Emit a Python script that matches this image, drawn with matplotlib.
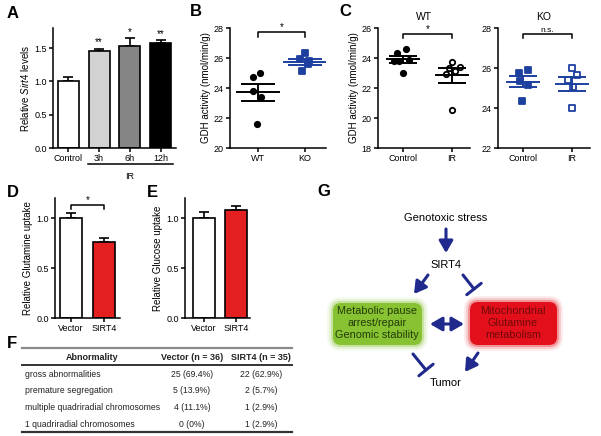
import matplotlib
matplotlib.use("Agg")
import matplotlib.pyplot as plt
from matplotlib.patches import FancyBboxPatch
from matplotlib.transforms import blended_transform_factory
import numpy as np

plt.rcParams['font.family'] = ['Liberation Sans', 'DejaVu Sans']
plt.rcParams['font.size'] = 7
plt.rcParams['mathtext.fontset'] = 'custom'
plt.rcParams['mathtext.it'] = 'Liberation Sans:italic'
plt.rcParams['mathtext.rm'] = 'Liberation Sans'
plt.rcParams['axes.linewidth'] = 1.1

W, H = 601, 436
BLUE = "#1d3f9e"
NAVY = "#1f2a8c"

# --- data ---
a_groups = ["Control", "3h", "6h", "12h"]
a_mean = [1.00, 1.45, 1.53, 1.57]
a_sem = [0.07, 0.04, 0.12, 0.05]
a_stars = ["", "**", "*", "**"]
a_colors = ["white", "#d2d2d2", "#858585", "black"]

b_groups = ["WT", "KO"]
b_wt = [24.7, 25.0, 23.8, 23.4, 21.6]
b_ko = [26.3, 25.95, 25.8, 25.6, 25.1]

c_groups = ["Control", "IR"]
c_wt_ctrl = [24.6, 24.35, 23.85, 23.8, 23.8, 23.0]
c_wt_ir = [23.75, 23.4, 23.35, 23.1, 22.9, 20.5]
c_ko_ctrl = [25.9, 25.77, 25.35, 25.15, 24.37]
c_ko_ir = [25.98, 25.65, 25.4, 25.03, 23.98]

de_groups = ["Vector", "SIRT4"]
d_mean = [1.00, 0.76]
d_sem = [0.05, 0.04]
e_mean = [1.00, 1.08]
e_sem = [0.06, 0.04]

f_rows = ["gross abnormalities", "premature segregation",
          "multiple quadriradial chromosomes", "1 quadriradial chromosomes"]
f_n = [36, 35]
f_vector = [25, 5, 4, 0]
f_sirt4 = [22, 2, 1, 1]

# horizontal jitter of the dots (layout only)
j_b_wt = [-0.1, 0.05, -0.1, 0.07, -0.02]
j_b_ko = [0.0, -0.1, 0.08, 0.06, -0.06]
j_c_wt_ctrl = [0.06, -0.12, 0.12, -0.18, -0.08, 0.0]
j_c_wt_ir = [0.0, 0.16, -0.06, 0.06, -0.12, 0.0]
j_c_ko_ctrl = [0.1, -0.08, -0.06, 0.1, -0.02]
j_c_ko_ir = [0.0, 0.1, -0.08, 0.02, 0.0]

TICK = 6.5


def box(x0, y0, x1, y1):
    return [x0 / W, 1 - y1 / H, (x1 - x0) / W, (y1 - y0) / H]


def style(ax):
    for s in ("top", "right"):
        ax.spines[s].set_visible(False)
    ax.tick_params(direction="out", length=3, width=1.1, labelsize=TICK,
                   pad=1.5)


def bracket(ax, x0, x1, y, h, label, fs=7):
    ax.plot([x0, x0, x1, x1], [y - h, y, y, y - h], color="k", lw=1.1,
            clip_on=False)
    ax.text((x0 + x1) / 2, y, label, ha="center", va="bottom", fontsize=fs)


def dots(ax, x, vals, offs, marker, color, filled, half=0.4, cap=11):
    v = np.array(vals)
    ax.scatter(x + np.array(offs), v, s=15, marker=marker,
               facecolors=color if filled else "white", edgecolors=color,
               linewidths=1.3, zorder=3, clip_on=False)
    m = v.mean()
    se = v.std(ddof=1) / np.sqrt(len(v))
    ax.plot([x - half, x + half], [m, m], color=color, lw=1.4, zorder=4)
    ax.errorbar(x, m, yerr=se, color=color, capsize=cap, elinewidth=1.4,
                capthick=1.4, fmt="none", zorder=4)


def bars(ax, means, sems, colors):
    x = np.arange(len(means))
    ax.bar(x, means, width=0.68, color=colors, edgecolor="black", lw=1.2,
           zorder=2)
    ax.errorbar(x, means, yerr=[np.zeros(len(sems)), sems], fmt="none",
                ecolor="black", elinewidth=1.2, capsize=3.5, capthick=1.2,
                zorder=1)
    return x


fig = plt.figure(figsize=(W / 100, H / 100), dpi=100)

# ---- A ----
ax = fig.add_axes(box(53, 28, 176, 148))
style(ax)
x = bars(ax, a_mean, a_sem, a_colors)
for xi, m, s, st in zip(x, a_mean, a_sem, a_stars):
    if st:
        ax.text(xi, m + s + 0.02, st, ha="center", va="bottom", fontsize=7)
ax.set_xlim(-0.5, 3.5)
ax.set_ylim(0, 1.8)
ax.set_yticks([0, 0.5, 1.0, 1.5])
ax.set_xticks(x)
ax.set_xticklabels(a_groups)
ax.set_ylabel(r"Relative $\it{Sirt4}$ levels", fontsize=7, labelpad=2)
tr = blended_transform_factory(ax.transData, ax.transAxes)
ax.plot([0.63, 3.4], [-0.135, -0.135], color="k", lw=1.1, transform=tr,
        clip_on=False)
ax.text(2.0, -0.2, "IR", transform=tr, ha="center", va="top", fontsize=TICK)

# ---- B ----
ax = fig.add_axes(box(230, 28, 326, 148))
style(ax)
dots(ax, 0, b_wt, j_b_wt, "o", "black", True, half=0.45, cap=12)
dots(ax, 1, b_ko, j_b_ko, "s", BLUE, True, half=0.45, cap=12)
ax.set_xlim(-0.6, 1.45)
ax.set_ylim(20, 28)
ax.set_yticks([20, 22, 24, 26, 28])
ax.set_xticks([0, 1])
ax.set_xticklabels(b_groups)
ax.set_ylabel("GDH activity (nmol/min/g)", fontsize=7, labelpad=2)
bracket(ax, 0, 1, 27.7, 0.3, "*")

# ---- C (WT) ----
ax = fig.add_axes(box(378, 28, 470, 148))
style(ax)
dots(ax, 0, c_wt_ctrl, j_c_wt_ctrl, "o", "black", True, half=0.33, cap=10)
dots(ax, 1, c_wt_ir, j_c_wt_ir, "o", "black", False, half=0.33, cap=10)
ax.set_xlim(-0.51, 1.37)
ax.set_ylim(18, 26)
ax.set_yticks([18, 20, 22, 24, 26])
ax.set_xticks([0, 1])
ax.set_xticklabels(c_groups)
ax.set_ylabel("GDH activity (nmol/min/g)", fontsize=7, labelpad=2)
ax.set_title("WT", fontsize=7.5, pad=6)
bracket(ax, 0, 1, 25.6, 0.3, "*")

# ---- C (KO) ----
ax = fig.add_axes(box(498, 28, 590, 148))
style(ax)
dots(ax, 0, c_ko_ctrl, j_c_ko_ctrl, "s", BLUE, True, half=0.33, cap=10)
dots(ax, 1, c_ko_ir, j_c_ko_ir, "s", BLUE, False, half=0.33, cap=10)
ax.set_xlim(-0.51, 1.37)
ax.set_ylim(22, 28)
ax.set_yticks([22, 24, 26, 28])
ax.set_xticks([0, 1])
ax.set_xticklabels(c_groups)
ax.set_title("KO", fontsize=7.5, pad=6)
bracket(ax, 0, 1, 27.7, 0.22, "n.s.", fs=6)

# ---- D ----
ax = fig.add_axes(box(55, 198, 120, 318))
style(ax)
x = bars(ax, d_mean, d_sem, ["white", "#e3201f"])
ax.set_xlim(-0.48, 1.48)
ax.set_ylim(0, 1.2)
ax.set_yticks([0, 0.5, 1.0])
ax.set_xticks(x)
ax.set_xticklabels(de_groups)
ax.set_ylabel("Relative Glutamine uptake", fontsize=7, labelpad=2)
bracket(ax, 0, 1, 1.13, 0.04, "*")

# ---- E ----
ax = fig.add_axes(box(185, 198, 250, 318))
style(ax)
x = bars(ax, e_mean, e_sem, ["white", "#e3201f"])
ax.set_xlim(-0.58, 1.42)
ax.set_ylim(0, 1.2)
ax.set_yticks([0, 0.5, 1.0])
ax.set_xticks(x)
ax.set_xticklabels(de_groups)
ax.set_ylabel("Relative Glucose uptake", fontsize=7, labelpad=2)

# ---- overlay for letters, table F and diagram G ----
ov = fig.add_axes([0, 0, 1, 1])
ov.set_xlim(0, W)
ov.set_ylim(H, 0)
ov.axis("off")

for lab, (lx, ly) in zip("ABCDEFG", [(13, 13), (196, 12), (345, 11),
                                      (13, 192), (152, 192), (12, 343),
                                      (324, 191)]):
    ov.text(lx, ly, lab, fontsize=12, fontweight="bold", ha="center",
            va="center")

# table F
tx0, tx1 = 22, 292
col_x = [92, 192, 261]
ov.plot([tx0, tx1], [348, 348], color="#8a8a8a", lw=1.6)
ov.plot([tx0, tx1], [365, 365], color="#333333", lw=1.4)
ov.plot([tx0, tx1], [432, 432], color="#333333", lw=1.6)
heads = ["Abnormality"] + [f"{g} (n = {n})" for g, n in zip(de_groups, f_n)]
for cx, h in zip(col_x, heads):
    ov.text(cx, 357, h, ha="center", va="center", fontsize=6.5,
            fontweight="bold", color="#222")


def cell(c, n):
    if c == 0:
        return "0 (0%)"
    return f"{c} ({100 * c / n:.1f}%)"


for i, (r, v, s) in enumerate(zip(f_rows, f_vector, f_sirt4)):
    yy = 374 + 16.7 * i
    ov.text(25, yy, r, ha="left", va="center", fontsize=6.2, color="#222")
    ov.text(col_x[1], yy, cell(v, f_n[0]), ha="center", va="center",
            fontsize=6.2, color="#222")
    ov.text(col_x[2], yy, cell(s, f_n[1]), ha="center", va="center",
            fontsize=6.2, color="#222")

# diagram G
def glowbox(x0, y0, x1, y1, color):
    for k, a in [(6, 0.08), (4, 0.15), (2, 0.3)]:
        ov.add_patch(FancyBboxPatch((x0 - k, y0 - k), x1 - x0 + 2 * k,
                                    y1 - y0 + 2 * k,
                                    boxstyle=f"round,pad=0,rounding_size={8 + k}",
                                    fc=color, ec="none", alpha=a))
    ov.add_patch(FancyBboxPatch((x0, y0), x1 - x0, y1 - y0,
                                boxstyle="round,pad=0,rounding_size=8",
                                fc=color, ec="none"))


glowbox(333, 303, 422, 345, "#86c232")
glowbox(470, 302, 557, 345, "#e3101b")
ov.text(377, 323, "Metabolic pause\narrest/repair\nGenomic stability",
        ha="center", va="center", fontsize=7.8, color="#243a08",
        linespacing=1.2)
ov.text(513, 323, "Mitochondrial\nGlutamine\nmetabolism", ha="center",
        va="center", fontsize=7.8, color="#6e0a0a", linespacing=1.2)
ov.text(446, 218, "Genotoxic stress", ha="center", va="center", fontsize=8)
ov.text(446, 265, "SIRT4", ha="center", va="center", fontsize=8)
ov.text(446, 383, "Tumor", ha="center", va="center", fontsize=8)

arr = dict(arrowstyle="-|>,head_length=0.6,head_width=0.35", color=NAVY,
           lw=2.2, mutation_scale=12, shrinkA=0, shrinkB=0)
inh = dict(arrowstyle="-[,widthB=0.55,lengthB=0", color=NAVY, lw=2.2,
           mutation_scale=12, shrinkA=0, shrinkB=0)
dbl = dict(arrowstyle="<|-|>,head_length=0.6,head_width=0.35", color=NAVY,
           lw=2.2, mutation_scale=12, shrinkA=0, shrinkB=0)
ov.annotate("", xy=(446, 253), xytext=(446, 229), arrowprops=arr)
ov.annotate("", xy=(414, 294), xytext=(428, 275), arrowprops=arr)
ov.annotate("", xy=(474, 289), xytext=(463, 275), arrowprops=inh)
ov.annotate("", xy=(464, 324), xytext=(430, 324), arrowprops=dbl)
ov.annotate("", xy=(426, 370), xytext=(413, 354), arrowprops=inh)
ov.annotate("", xy=(465, 372), xytext=(478, 353), arrowprops=arr)

fig.savefig("out.png", dpi=100)
